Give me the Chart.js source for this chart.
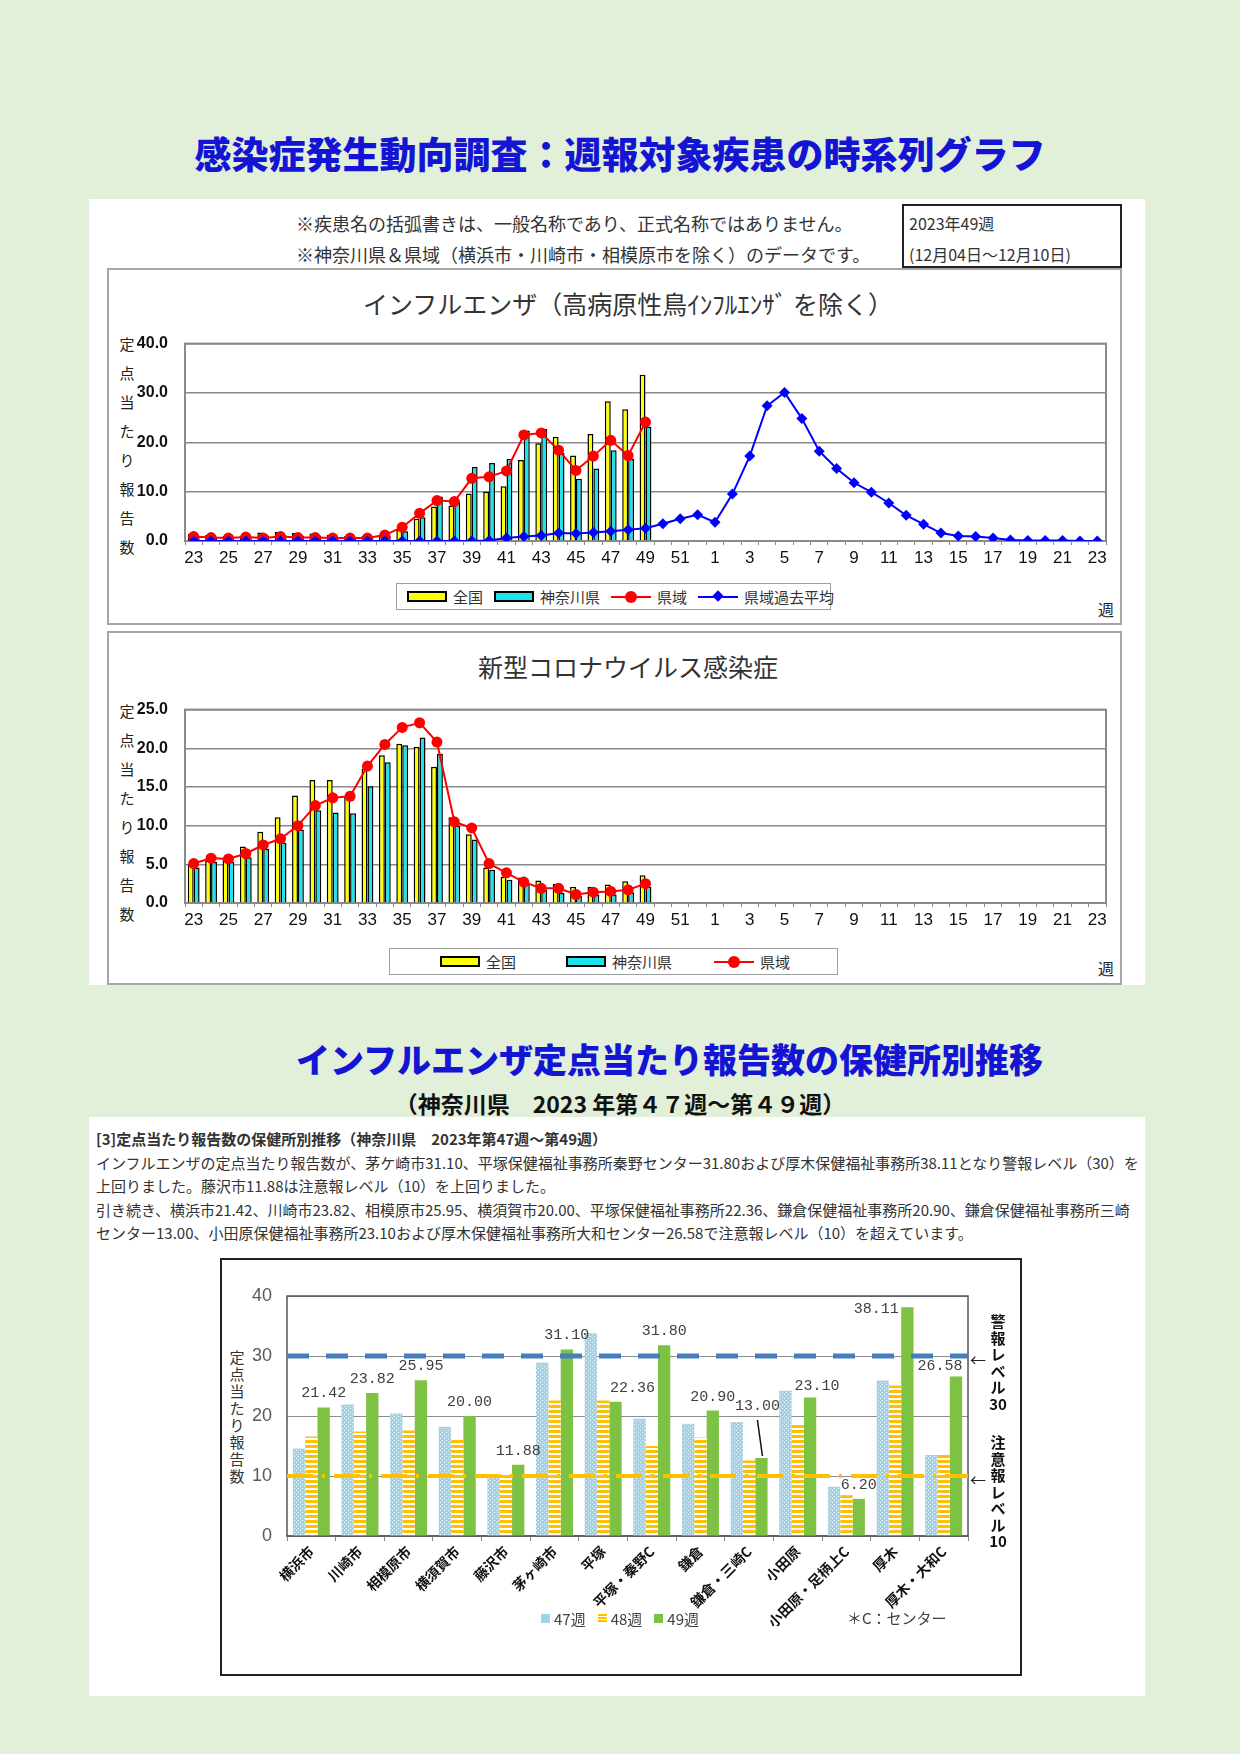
<!DOCTYPE html>
<html lang="ja">
<head>
<meta charset="utf-8">
<title>感染症発生動向調査：週報対象疾患の時系列グラフ</title>
<script src="https://cdn.jsdelivr.net/npm/chart.js@4.4.0/dist/chart.umd.min.js"></script>
<style>
  html, body { margin: 0; padding: 0; }
  body { width: 1240px; height: 1754px; background: #e2efd9; position: relative; overflow: hidden;
         font-family: 'Noto Sans CJK JP', sans-serif; color: #222; }
  .abs { position: absolute; }
  .title { color: #1414d4; font-weight: 900; white-space: nowrap; text-align: center; }
  .panel { background: #fff; }
  .frame { border: 2px solid #a6a6a6; box-sizing: border-box; }
  .note { font-size: 18px; line-height: 31px; white-space: nowrap; color: #333; }
  .ytitle { font-size: 15px; line-height: 29px; width: 18px; text-align: center; color: #222; }
  .ctitle { font-size: 25px; color: #333; white-space: nowrap; text-align: center; }
  .legend { border: 1.5px solid #a0a0a0; box-sizing: border-box; display: flex; align-items: center;
            font-size: 15px; color: #333; white-space: nowrap; background: #fff; }
  .legend .sw { display: inline-block; width: 36px; height: 7px; border: 2px solid #000; margin-right: 6px; }
  .legend .ln { display: inline-block; width: 40px; height: 2px; position: relative; margin-right: 6px; }
  .legend .ln i { position: absolute; left: 14px; top: -5px; width: 12px; height: 12px; border-radius: 50%; }
  .legend .ln b { position: absolute; left: 16px; top: -4px; width: 8px; height: 8px; transform: rotate(45deg); }
  .legend .it { display: flex; align-items: center; margin-right: 11px; }
  .para { font-size: 15px; line-height: 23.5px; color: #333; white-space: nowrap; }
  .side { font-size: 15px; font-weight: 700; line-height: 16.5px; text-align: center; width: 24px; color: #111; }
  .olegend { display: flex; align-items: center; font-size: 15px; color: #404040; white-space: nowrap; }
  .olegend span { display: inline-block; width: 9px; height: 9px; margin-right: 4px; }
  .olegend em { font-style: normal; margin-right: 12px; }
</style>
</head>
<body>

<div class="abs title" style="left:0; width:1240px; top:128px; font-size:37px; line-height:50px;">感染症発生動向調査：週報対象疾患の時系列グラフ</div>

<div class="abs panel" style="left:89px; top:199px; width:1056px; height:786px;"></div>
<div class="abs note" style="left:296px; top:208px;">※疾患名の括弧書きは、一般名称であり、正式名称ではありません。</div>
<div class="abs note" style="left:296px; top:239px;">※神奈川県＆県域（横浜市・川崎市・相模原市を除く）のデータです。</div>
<div class="abs" style="left:902px; top:204px; width:220px; height:64px; border:2px solid #222; box-sizing:border-box; background:#fff;"></div>
<div class="abs note" style="left:909px; top:208px; font-size:16px;">2023年49週</div>
<div class="abs note" style="left:909px; top:239px; font-size:16px;">(12月04日～12月10日)</div>

<div class="abs frame" style="left:107px; top:268px; width:1015px; height:357px;"></div>
<div class="abs ctitle" style="left:107px; width:1042px; top:286px; line-height:34px;">インフルエンザ（高病原性鳥ｲﾝﾌﾙｴﾝｻﾞ を除く）</div>
<div class="abs ytitle" style="left:118px; top:329px;">定<br>点<br>当<br>た<br>り<br>報<br>告<br>数</div>
<canvas id="fluChart" class="abs" width="1010" height="264" style="left:110px; top:317px;"></canvas>
<div class="abs legend" style="left:396px; top:583px; width:435px; height:27px; padding-left:10px;">
  <span class="it"><span class="sw" style="background:#ffff00"></span>全国</span>
  <span class="it"><span class="sw" style="background:#1ee3ea"></span>神奈川県</span>
  <span class="it"><span class="ln" style="background:#ff0000"><i style="background:#ff0000"></i></span>県域</span>
  <span class="it"><span class="ln" style="background:#0000ff"><b style="background:#0000ff"></b></span>県域過去平均</span>
</div>
<div class="abs" style="left:1098px; top:597px; font-size:16px;">週</div>

<div class="abs frame" style="left:107px; top:631px; width:1015px; height:354px;"></div>
<div class="abs ctitle" style="left:107px; width:1042px; top:649px; line-height:34px;">新型コロナウイルス感染症</div>
<div class="abs ytitle" style="left:118px; top:696px;">定<br>点<br>当<br>た<br>り<br>報<br>告<br>数</div>
<canvas id="covidChart" class="abs" width="1010" height="260" style="left:110px; top:683px;"></canvas>
<div class="abs legend" style="left:389px; top:948px; width:449px; height:27px; padding-left:50px;">
  <span class="it" style="margin-right:50px"><span class="sw" style="background:#ffff00"></span>全国</span>
  <span class="it" style="margin-right:42px"><span class="sw" style="background:#1ee3ea"></span>神奈川県</span>
  <span class="it"><span class="ln" style="background:#ff0000"><i style="background:#ff0000"></i></span>県域</span>
</div>
<div class="abs" style="left:1098px; top:956px; font-size:16px;">週</div>

<div class="abs title" style="left:296px; width:729px; top:1036px; font-size:34px; line-height:46px;">インフルエンザ定点当たり報告数の保健所別推移</div>
<div class="abs" style="left:0; width:1240px; top:1087px; font-size:23px; line-height:32px; font-weight:700; text-align:center; color:#111;">（神奈川県　2023 年第４７週～第４９週）</div>

<div class="abs panel" style="left:89px; top:1117px; width:1056px; height:579px;"></div>
<div class="abs para" style="left:96px; top:1127px;">
  <b>[3]定点当たり報告数の保健所別推移（神奈川県　2023年第47週～第49週）</b><br>
  インフルエンザの定点当たり報告数が、茅ケ崎市31.10、平塚保健福祉事務所秦野センター31.80および厚木保健福祉事務所38.11となり警報レベル（30）を<br>
  上回りました。藤沢市11.88は注意報レベル（10）を上回りました。<br>
  引き続き、横浜市21.42、川崎市23.82、相模原市25.95、横須賀市20.00、平塚保健福祉事務所22.36、鎌倉保健福祉事務所20.90、鎌倉保健福祉事務所三崎<br>
  センター13.00、小田原保健福祉事務所23.10および厚木保健福祉事務所大和センター26.58で注意報レベル（10）を超えています。
</div>

<div class="abs" style="left:220px; top:1258px; width:802px; height:418px; border:2px solid #222; box-sizing:border-box;"></div>
<div class="abs" style="left:228px; top:1348px; font-size:15px; line-height:17px; width:18px; text-align:center; color:#333;">定<br>点<br>当<br>た<br>り<br>報<br>告<br>数</div>
<canvas id="officeChart" class="abs" width="798" height="414" style="left:222px; top:1260px;"></canvas>
<div class="abs" style="left:970px; top:1347px; font-size:16px;">←</div>
<div class="abs side" style="left:986px; top:1313px;">警<br>報<br>レ<br>ベ<br>ル<br>30</div>
<div class="abs" style="left:970px; top:1467px; font-size:16px;">←</div>
<div class="abs side" style="left:986px; top:1434px;">注<br>意<br>報<br>レ<br>ベ<br>ル<br>10</div>
<div class="abs olegend" style="left:541px; top:1607px; height:22px;">
  <span style="background:#9fd3ea"></span><em>47週</em>
  <span style="background:repeating-linear-gradient(#ffc000 0 2px, #fff 2px 3px)"></span><em>48週</em>
  <span style="background:#7dc242"></span><em>49週</em>
</div>
<div class="abs" style="left:847px; top:1607px; font-size:15px; color:#404040;">＊C：センター</div>

<script>
// 週ラベル (2023年第23週～2024年第23週)
const weekLabels = ['23','24','25','26','27','28','29','30','31','32','33','34','35','36','37','38','39','40',
  '41','42','43','44','45','46','47','48','49','50','51','52',
  '1','2','3','4','5','6','7','8','9','10','11','12','13','14','15','16','17','18','19','20','21','22','23'];

// インフルエンザ (第23週～第49週)
const fluNational  = [1.4,1.2,1.0,1.1,1.7,1.8,1.6,1.5,1.2,1.0,1.0,1.3,2.3,4.5,7.0,7.2,9.6,10.0,11.1,16.4,19.8,21.1,17.3,21.7,28.3,26.7,33.7];
const fluKanagawa  = [1.0,0.9,0.8,0.9,1.1,1.2,1.1,1.1,0.9,0.8,0.8,1.0,2.0,4.8,9.0,7.9,15.0,15.8,16.6,22.4,22.7,17.9,12.6,14.7,18.4,16.6,23.2];
const fluArea      = [0.9,0.7,0.6,0.8,0.6,0.9,0.7,0.7,0.6,0.6,0.6,1.2,2.8,5.6,8.2,8.0,12.7,13.0,14.2,21.5,21.9,18.4,14.3,17.2,20.4,17.3,24.1];
// 県域過去平均 (全53週)
const fluPastAvg   = [0.0,0.0,0.0,0.0,0.0,0.0,0.0,0.0,0.0,0.0,0.0,0.0,0.0,0.0,0.0,0.0,0.0,0.1,0.6,0.9,1.1,1.6,1.5,1.7,2.0,2.3,2.6,3.5,4.5,5.3,
  3.8,9.5,17.2,27.4,30.1,24.8,18.2,14.7,11.8,9.9,7.7,5.2,3.4,1.6,1.0,0.9,0.6,0.2,0.1,0.1,0.1,0.0,0.0];

// 新型コロナウイルス感染症 (第23週～第49週)
const covidNational = [5.0,5.5,5.7,7.3,9.2,11.1,13.9,15.9,15.9,13.8,17.4,19.1,20.6,20.2,17.6,11.1,8.9,4.6,3.4,3.3,2.9,2.5,2.1,2.1,2.4,2.8,3.6];
const covidKanagawa = [4.6,5.3,5.3,5.9,7.0,7.8,9.5,12.0,11.7,11.6,15.1,18.2,20.4,21.4,19.3,10.0,8.2,4.3,3.0,2.5,1.7,1.3,0.9,1.1,1.1,1.4,2.1];
const covidArea     = [5.1,5.8,5.7,6.4,7.5,8.3,10.0,12.6,13.6,13.8,17.7,20.5,22.7,23.3,20.8,10.5,9.7,5.1,3.9,2.7,1.9,1.9,1.1,1.4,1.5,1.7,2.5];

// 保健所別 定点当たり報告数
const offices = ['横浜市','川崎市','相模原市','横須賀市','藤沢市','茅ヶ崎市','平塚','平塚・秦野C','鎌倉','鎌倉・三崎C','小田原','小田原・足柄上C','厚木','厚木・大和C'];
const week47 = [14.6,21.9,20.4,18.2,9.9,28.9,33.8,19.6,18.7,19.0,24.2,8.2,25.9,13.5];
const week48 = [16.6,17.4,17.6,16.0,10.4,22.6,22.6,15.0,16.4,12.6,18.7,6.8,25.1,13.5];
const week49 = [21.42,23.82,25.95,20.00,11.88,31.10,22.36,31.80,20.90,13.00,23.10,6.20,38.11,26.58];
const ALERT_LEVEL = 30;
const WARNING_LEVEL = 10;

Chart.defaults.font.family = "'Noto Sans CJK JP', sans-serif";
Chart.defaults.animation = false;

const narrow = "'Liberation Sans Narrow', 'Liberation Sans', sans-serif";

// gray box around the plot area
const plotBox = {
  id: 'plotBox',
  beforeDatasetsDraw(chart, args, opts) {
    const a = chart.chartArea, c = chart.ctx;
    c.save();
    c.strokeStyle = opts.color || '#888';
    c.lineWidth = opts.width || 2;
    c.strokeRect(a.left, a.top, a.right - a.left, a.bottom - a.top);
    c.restore();
  }
};

function weeklyOptions(max, step) {
  return {
    responsive: false,
    layout: { padding: { left: 20, right: 14, top: 10, bottom: 0 } },
    plugins: { legend: { display: false }, tooltip: { enabled: false }, plotBox: { color: '#8a8a8a', width: 2 } },
    scales: {
      x: {
        grid: { drawOnChartArea: false, offset: true, tickLength: 4, color: '#888' },
        border: { color: '#888', width: 2 },
        ticks: {
          autoSkip: false, maxRotation: 0, padding: 3, color: '#111',
          font: { family: narrow, size: 17 },
          callback: (v, i) => (i % 2 === 0 ? weekLabels[i] : '')
        },
        afterFit: s => { s.height = 40; }
      },
      y: {
        min: 0, max: max,
        grid: { color: '#8a8a8a', lineWidth: 1.5, drawTicks: false },
        border: { display: false },
        ticks: { stepSize: step, padding: 17, color: '#111', font: { family: narrow, size: 16, weight: 'bold' },
                 callback: v => v.toFixed(1) },
        afterFit: s => { s.width = 55; }
      }
    }
  };
}

function barSet(label, data, color) {
  return { type: 'bar', label, data, backgroundColor: color, borderColor: '#000', borderWidth: 1.5,
           categoryPercentage: 0.68, barPercentage: 1.0, order: 3 };
}
function lineSet(label, data, color, style, order) {
  return { type: 'line', label, data, borderColor: color, backgroundColor: color, borderWidth: 2,
           pointStyle: style, pointRadius: 5.5, pointBorderWidth: 0, tension: 0, order };
}

new Chart(document.getElementById('fluChart'), {
  data: {
    labels: weekLabels,
    datasets: [
      lineSet('県域過去平均', fluPastAvg, '#0000ff', 'rectRot', 0),
      lineSet('県域', fluArea, '#ff0000', 'circle', 1),
      barSet('全国', fluNational, '#ffff00'),
      barSet('神奈川県', fluKanagawa, '#1ee3ea')
    ]
  },
  options: weeklyOptions(40, 10),
  plugins: [plotBox]
});

new Chart(document.getElementById('covidChart'), {
  data: {
    labels: weekLabels,
    datasets: [
      lineSet('県域', covidArea, '#ff0000', 'circle', 1),
      barSet('全国', covidNational, '#ffff00'),
      barSet('神奈川県', covidKanagawa, '#1ee3ea')
    ]
  },
  options: weeklyOptions(25, 5),
  plugins: [plotBox]
});

// fill patterns for the 47 / 48 week bars
function dotPattern() {
  const p = document.createElement('canvas');
  p.width = 4; p.height = 4;
  const c = p.getContext('2d');
  c.fillStyle = '#9fd3ea'; c.fillRect(0, 0, 4, 4);
  c.fillStyle = '#e8f6fc'; c.fillRect(0, 0, 1, 1); c.fillRect(2, 2, 1, 1);
  return c.createPattern(p, 'repeat');
}
function stripePattern() {
  const p = document.createElement('canvas');
  p.width = 4; p.height = 5;
  const c = p.getContext('2d');
  c.fillStyle = '#ffc000'; c.fillRect(0, 0, 4, 5);
  c.fillStyle = '#ffffff'; c.fillRect(0, 3, 4, 2);
  return c.createPattern(p, 'repeat');
}

const levelLines = {
  id: 'levelLines',
  afterDatasetsDraw(chart) {
    const a = chart.chartArea, c = chart.ctx, y = chart.scales.y;
    c.save();
    let py = y.getPixelForValue(WARNING_LEVEL);
    c.strokeStyle = '#ffc000'; c.lineWidth = 4; c.setLineDash([26, 9, 3, 9]);
    c.beginPath(); c.moveTo(a.left, py); c.lineTo(a.right, py); c.stroke();
    py = y.getPixelForValue(ALERT_LEVEL);
    c.strokeStyle = '#4a7ebb'; c.lineWidth = 5; c.setLineDash([22, 17]);
    c.beginPath(); c.moveTo(a.left, py); c.lineTo(a.right, py); c.stroke();
    c.restore();
  }
};

// value labels on the 49th week bars
const valueLabels = {
  id: 'valueLabels',
  afterDatasetsDraw(chart, args, opts) {
    const meta = chart.getDatasetMeta(2), c = chart.ctx;
    c.save();
    c.font = "15px 'Liberation Mono', monospace";
    c.fillStyle = '#404040';
    c.strokeStyle = '#111';
    c.lineWidth = 1.5;
    c.textAlign = 'center';
    c.textBaseline = 'middle';
    meta.data.forEach((bar, i) => {
      const t = opts.tweaks[i] || {};
      const x = bar.x + (t.dx || 0), y = bar.y - 14 + (t.dy || 0);
      c.fillText(week49[i].toFixed(2), x, y);
      if (t.leader) {
        c.beginPath(); c.moveTo(x, y + 14); c.lineTo(bar.x + 1, bar.y - 2); c.stroke();
      }
    });
    c.restore();
  }
};

new Chart(document.getElementById('officeChart'), {
  type: 'bar',
  data: {
    labels: offices,
    datasets: [
      { label: '47週', data: week47, backgroundColor: dotPattern() },
      { label: '48週', data: week48, backgroundColor: stripePattern() },
      { label: '49週', data: week49, backgroundColor: '#7dc242' }
    ]
  },
  options: {
    responsive: false,
    datasets: { bar: { categoryPercentage: 0.76, barPercentage: 1.0, borderWidth: 0 } },
    layout: { padding: { left: 20, right: 52, top: 36, bottom: 28 } },
    plugins: {
      tooltip: { enabled: false },
      legend: { display: false },
      plotBox: { color: '#555', width: 1.5 },
      valueLabels: { tweaks: { 6: { dx: 17 }, 9: { dx: -4, dy: -38, leader: true }, 10: { dx: 7, dy: 3 },
                               12: { dx: -31, dy: 16 }, 13: { dx: -16, dy: 4 } } }
    },
    scales: {
      x: {
        grid: { drawOnChartArea: false, offset: true, tickLength: 5, color: '#888' },
        border: { color: '#888', width: 1.5 },
        ticks: { autoSkip: false, minRotation: 45, maxRotation: 45, color: '#111', padding: 2,
                 font: { size: 14, weight: 'bold' } },
        afterFit: s => { s.height = 110; }
      },
      y: {
        min: 0, max: 40,
        grid: { color: '#8c8c8c', drawTicks: false },
        border: { display: false },
        ticks: { stepSize: 10, padding: 15, color: '#595959', font: { family: narrow, size: 18 } },
        afterFit: s => { s.width = 45; }
      }
    }
  },
  plugins: [plotBox, levelLines, valueLabels]
});
</script>
</body>
</html>
